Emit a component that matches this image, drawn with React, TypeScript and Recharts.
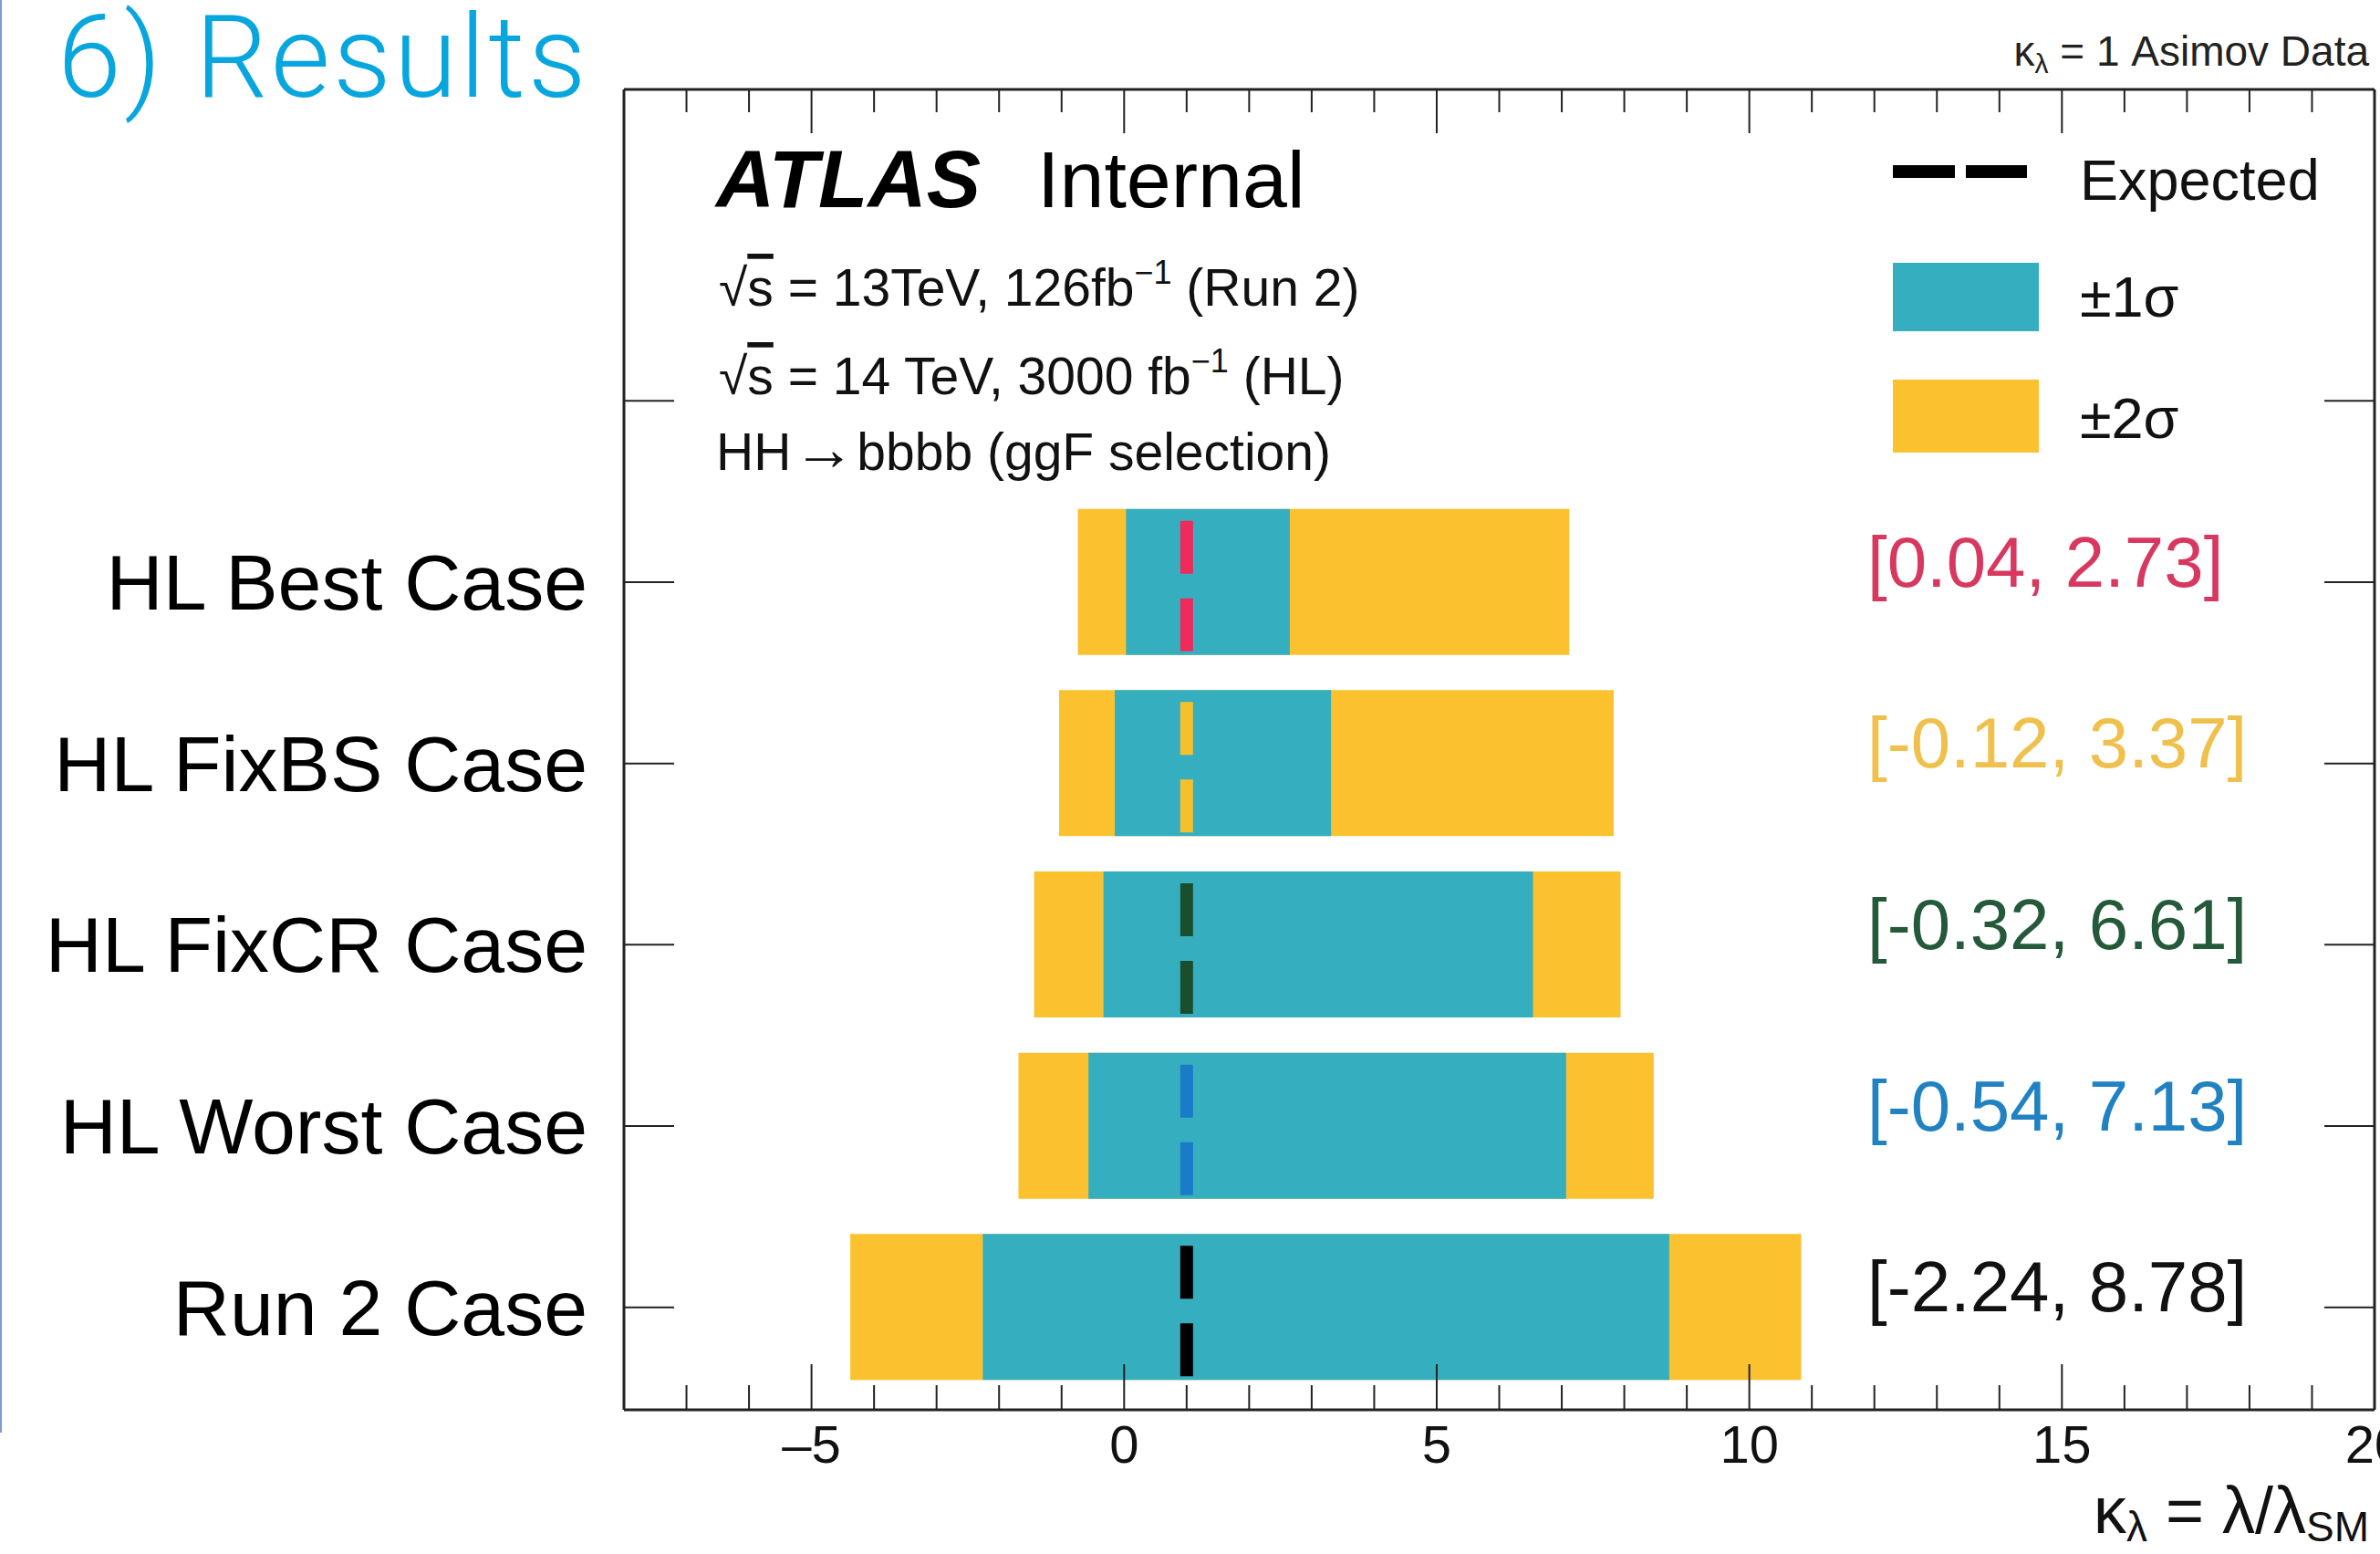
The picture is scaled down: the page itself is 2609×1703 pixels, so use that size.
import React from 'react';
import { ComposedChart, Bar, XAxis, YAxis, LabelList } from 'recharts';

const W = 2609;
const H = 1703;
const FONT = "'Liberation Sans', Arial, Helvetica, sans-serif";
const TEAL = '#35afbf';
const YELLOW = '#fbc12f';
const FRAME = '#222222';

// rows from top to bottom
const cases = ['HL Best Case', 'HL FixBS Case', 'HL FixCR Case', 'HL Worst Case', 'Run 2 Case'];
const sigma1Low = [0.03, -0.15, -0.33, -0.57, -2.26];
const sigma1High = [2.65, 3.31, 6.54, 7.07, 8.72];
const sigma2Low = [-0.74, -1.04, -1.44, -1.69, -4.38];
const sigma2High = [7.12, 7.83, 7.94, 8.47, 10.83];
const expected = [1, 1, 1, 1, 1];
const intervalLabels = ['[0.04, 2.73]', '[-0.12, 3.37]', '[-0.32, 6.61]', '[-0.54, 7.13]', '[-2.24, 8.78]'];
const labelColors = ['#d8385f', '#efc04c', '#24593a', '#2182c2', '#111111'];
const dashColors = ['#ee2b5a', '#f5c02c', '#1b4e2c', '#1a7bc9', '#000000'];
const xTicks = [-8, -7, -6, -5, -4, -3, -2, -1, 0, 1, 2, 3, 4, 5, 6, 7, 8, 9, 10, 11, 12, 13, 14, 15, 16, 17, 18, 19, 20];

const rows = [
  { name: '' },
  ...cases.map((name, i) => ({
    name,
    band2: [sigma2Low[i], sigma2High[i]],
    band1: [sigma1Low[i], sigma1High[i]],
    exp: [expected[i] - 0.05, expected[i] + 0.05],
    label: intervalLabels[i],
    dash: dashColors[i],
  })),
];

const LABEL_X = 2047;

const BottomTick = ({ x, y, payload }: any) => {
  const v = payload.value;
  const major = v % 5 === 0;
  return (
    <g>
      <line x1={x} x2={x} y1={y} y2={y - (major ? 50 : 27)} stroke={FRAME} strokeWidth={2} />
      {major && (
        <text x={x} y={y + 58} textAnchor="middle" fontSize={58} fontFamily={FONT} fill="#111">
          {v < 0 ? '–' + Math.abs(v) : String(v)}
        </text>
      )}
    </g>
  );
};

const TopTick = ({ x, y, payload }: any) => {
  const major = payload.value % 5 === 0;
  return <line x1={x} x2={x} y1={y} y2={y + (major ? 48 : 25)} stroke={FRAME} strokeWidth={2} />;
};

const LeftTick = ({ x, y, payload }: any) => (
  <g>
    <line x1={x} x2={x + 55} y1={y} y2={y} stroke={FRAME} strokeWidth={2} />
    <text x={x - 40} y={y + 30} textAnchor="end" fontSize={86} fontFamily={FONT} fill="#000">
      {payload.value}
    </text>
  </g>
);

const RightTick = ({ x, y }: any) => <line x1={x - 55} x2={x} y1={y} y2={y} stroke={FRAME} strokeWidth={2} />;

const ExpectedDash = (props: any) => {
  const { x, y, width, height, payload } = props;
  if (!payload || payload.exp == null) return null;
  const cx = x + width / 2;
  return (
    <line x1={cx} x2={cx} y1={y + 13} y2={y + height} stroke={payload.dash} strokeWidth={14} strokeDasharray="58 27" />
  );
};

const IntervalLabel = (props: any) => {
  const { y, height, value } = props;
  if (!value) return null;
  const i = intervalLabels.indexOf(value);
  return (
    <text x={LABEL_X} y={Number(y) + Number(height) / 2 + 5} fontSize={78} fontFamily={FONT} fill={labelColors[i]}>
      {value}
    </text>
  );
};

export default function App() {
  return (
    <div style={{ position: 'absolute', left: 0, top: 0, width: W, height: H, overflow: 'hidden', background: '#fff' }}>
      <ComposedChart
        width={W}
        height={H}
        data={rows}
        layout="vertical"
        margin={{ top: 68, right: 0, bottom: 0, left: 0 }}
        barSize={160}
        barGap={-160}
      >
        <XAxis
          xAxisId="b"
          type="number"
          domain={[-8, 20]}
          ticks={xTicks}
          interval={0}
          height={158}
          tickSize={0}
          tickMargin={0}
          tickLine={false}
          allowDataOverflow
          axisLine={{ stroke: FRAME, strokeWidth: 3 }}
          tick={(p: any) => <BottomTick {...p} />}
        />
        <XAxis
          xAxisId="t"
          orientation="top"
          type="number"
          domain={[-8, 20]}
          ticks={xTicks}
          interval={0}
          height={30}
          tickSize={0}
          tickMargin={0}
          tickLine={false}
          allowDataOverflow
          axisLine={{ stroke: FRAME, strokeWidth: 3 }}
          tick={(p: any) => <TopTick {...p} />}
        />
        <YAxis
          yAxisId="l"
          type="category"
          dataKey="name"
          width={684}
          padding={{ top: 242, bottom: 13 }}
          interval={0}
          tickSize={0}
          tickMargin={0}
          tickLine={false}
          axisLine={{ stroke: FRAME, strokeWidth: 3 }}
          tick={(p: any) => <LeftTick {...p} />}
        />
        <YAxis
          yAxisId="r"
          orientation="right"
          type="category"
          dataKey="name"
          width={6}
          padding={{ top: 242, bottom: 13 }}
          interval={0}
          tickSize={0}
          tickMargin={0}
          tickLine={false}
          axisLine={{ stroke: FRAME, strokeWidth: 3 }}
          tick={(p: any) => <RightTick {...p} />}
        />
        <Bar dataKey="band2" xAxisId="b" yAxisId="l" fill={YELLOW} isAnimationActive={false} />
        <Bar dataKey="band1" xAxisId="b" yAxisId="l" fill={TEAL} isAnimationActive={false}>
          <LabelList dataKey="label" content={IntervalLabel} />
        </Bar>
        <Bar dataKey="exp" xAxisId="b" yAxisId="l" fill="none" shape={ExpectedDash} isAnimationActive={false} />

        {/* slide decorations */}
        <line x1={1} x2={1} y1={0} y2={1570} stroke="#7d9ccc" strokeWidth={2} />
        <text
          x={63}
          y={106}
          fontFamily="Roboto, 'Open Sans', sans-serif"
          fontWeight={300}
          fontSize={126}
          letterSpacing={3}
          fill="#08a6de"
        >
          6) Results
        </text>
        <text x={2597} y={72} textAnchor="end" fontFamily={FONT} fontSize={46} fill="#222">
          κ<tspan fontSize={30} dy={8}>λ</tspan>
          <tspan dy={-8}> = 1 Asimov Data</tspan>
        </text>
        <text x={2295} y={1680} fontFamily={FONT} fontSize={72} fill="#111">
          κ<tspan fontSize={46} dy={9}>λ</tspan>
          <tspan dy={-9}> = λ/λ</tspan>
          <tspan fontSize={46} dy={9}>SM</tspan>
        </text>

        {/* ATLAS label and annotations */}
        <text x={785} y={227} fontFamily={FONT} fontSize={89} fontWeight="bold" fontStyle="italic" fill="#000">
          ATLAS
        </text>
        <text x={1137} y={227} fontFamily={FONT} fontSize={88} fill="#000">
          Internal
        </text>
        <text x={788} y={335} fontFamily={FONT} fontSize={57} fill="#111">
          √<tspan textDecoration="overline">s</tspan> = 13TeV, 126fb
          <tspan fontSize={36} dy={-24}>−1</tspan>
          <tspan dy={24}> (Run 2)</tspan>
        </text>
        <text x={788} y={432} fontFamily={FONT} fontSize={57} fill="#111">
          √<tspan textDecoration="overline">s</tspan> = 14 TeV, 3000 fb
          <tspan fontSize={36} dy={-24}>−1</tspan>
          <tspan dy={24}> (HL)</tspan>
        </text>
        <text x={785} y={515} fontFamily={FONT} fontSize={57} fill="#111">
          HH<tspan dx={2} fontSize={68}>→</tspan>
          <tspan dx={2}>bbbb (ggF selection)</tspan>
        </text>

        {/* legend */}
        <line x1={2075} x2={2222} y1={188} y2={188} stroke="#000" strokeWidth={14} strokeDasharray="68 12" />
        <rect x={2075} y={288} width={160} height={75} fill={TEAL} />
        <rect x={2075} y={416} width={160} height={80} fill={YELLOW} />
        <text x={2280} y={219} fontFamily={FONT} fontSize={63} fill="#111">Expected</text>
        <text x={2280} y={347} fontFamily={FONT} fontSize={63} fill="#111">±1σ</text>
        <text x={2280} y={480} fontFamily={FONT} fontSize={63} fill="#111">±2σ</text>
      </ComposedChart>
    </div>
  );
}
